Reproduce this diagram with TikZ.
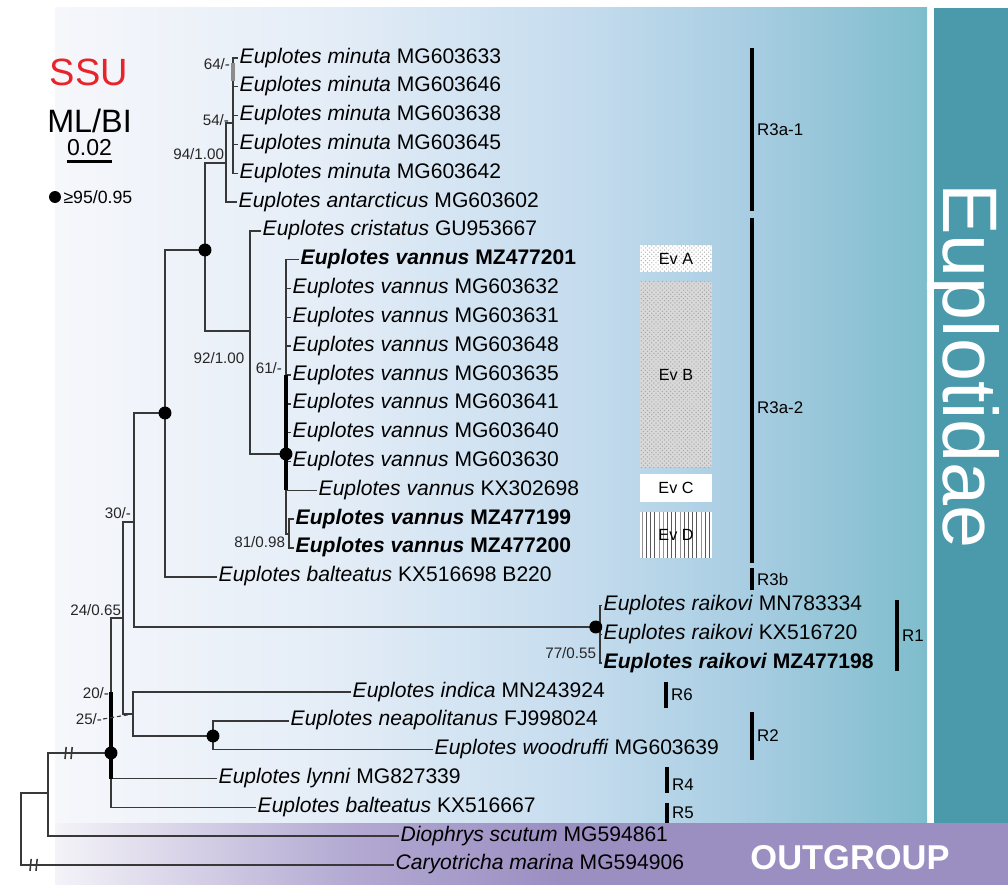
\documentclass[tikz,border=0pt]{standalone}
\usepackage{fontspec}
\setmainfont{Liberation Sans}
\usetikzlibrary{positioning,patterns,calc}

\definecolor{ssured}{HTML}{E8232A}
\definecolor{bgA}{HTML}{F6F7FB}
\definecolor{bgB}{HTML}{E4EDF7}
\definecolor{bgC}{HTML}{C5DCEE}
\definecolor{bgD}{HTML}{A6CCE1}
\definecolor{bgE}{HTML}{7EBDCC}
\definecolor{famteal}{HTML}{4A9AAC}
\definecolor{puA}{HTML}{F4F3F8}
\definecolor{puB}{HTML}{B3A9D2}
\definecolor{puC}{HTML}{9B8FC2}

\newcommand\taxfont{\fontsize{15}{18}\selectfont}
\newcommand\supfont{\fontsize{10.8}{12}\selectfont}
\newcommand\cladefont{\fontsize{12}{14}\selectfont}
\newcommand\evfont{\fontsize{11.5}{13}\selectfont}

\tikzset{
  branch/.style={draw=black!78, line width=1pt},
  supportbar/.style={draw=black, line width=2.2pt},
  graybar/.style={draw=black!45, line width=2.2pt},
  cutmark/.style={draw=black!78, line width=1.1pt},
  leaf/.style={anchor=west, inner xsep=1pt, inner ysep=0pt, font=\taxfont,
    text height=0.716em, text depth=0pt},
  support/.style={font=\supfont, inner sep=0.5pt, text=black!85},
  hub/.style={circle, fill=black, inner sep=0pt, minimum size=9.2pt},
  cladebar/.style={fill=black, inner sep=0pt, minimum width=2.6pt},
  cladelabel/.style={font=\cladefont, inner sep=0.5pt},
  evbox/.style={inner sep=0pt, minimum width=51.2pt, font=\evfont}
}

\begin{document}
\begin{tikzpicture}[x=0.025cm, y=-0.025cm]
  \useasboundingbox (0,0) rectangle (1008,885);
  \fill[white] (0,0) rectangle (1008,885);

  % backgrounds
  \shade[left color=bgA, right color=bgB] (55,8) rectangle (330,823);
  \shade[left color=bgB, right color=bgC] (330,8) rectangle (580,823);
  \shade[left color=bgC, right color=bgD] (580,8) rectangle (760,823);
  \shade[left color=bgD, right color=bgE] (760,8) rectangle (927,823);
  \fill[famteal] (934,8) rectangle (1008,823);
  \shade[left color=puA, right color=puB] (55,823) rectangle (350,885);
  \shade[left color=puB, right color=puC] (350,823) rectangle (560,885);
  \fill[puC] (560,823) rectangle (1008,885);

  \node[rotate=-90, anchor=base west, inner sep=0pt, text=white,
    font=\fontsize{55}{60}\selectfont] (fam) at (943,183) {Euplotidae};
  \node[text=white, inner sep=0pt, font=\fontsize{24.5}{28}\selectfont\bfseries] (outg) at (850,858) {OUTGROUP};

  % legend
  \node[text=ssured, inner sep=0pt, font=\fontsize{27}{30}\selectfont] (ssu) at (89,72) {SSU};
  \node[inner sep=0pt, font=\fontsize{23}{26}\selectfont] (mlbi) at (89.5,121) {ML/BI};
  \node[inner sep=0pt, font=\fontsize{16.4}{19}\selectfont] (scale) at (89.5,148) {0.02};
  \draw[line width=1.8pt] ([yshift=-3.6pt]scale.south west) -- ([yshift=-3.6pt]scale.south east);
  \node[hub, minimum size=8.5pt] (ldot) at (55,197) {};
  \node[inner sep=0pt, right=1.4pt of ldot, font=\fontsize{12.6}{14}\selectfont] (lsup) {≥95/0.95};

  % taxa
  \node[leaf] (t1) at (238,58) {\textit{Euplotes minuta} MG603633};
  \node[leaf] (t2) at (238,86.8) {\textit{Euplotes minuta} MG603646};
  \node[leaf] (t3) at (238,115.6) {\textit{Euplotes minuta} MG603638};
  \node[leaf] (t4) at (238,144.5) {\textit{Euplotes minuta} MG603645};
  \node[leaf] (t5) at (238,173.3) {\textit{Euplotes minuta} MG603642};
  \node[leaf] (t6) at (237,202.1) {\textit{Euplotes antarcticus} MG603602};
  \node[leaf] (t7) at (261,230.9) {\textit{Euplotes cristatus} GU953667};
  \node[leaf] (t8) at (299,259.7) {\textbf{\textit{Euplotes vannus} MZ477201}};
  \node[leaf] (t9) at (291,288.6) {\textit{Euplotes vannus} MG603632};
  \node[leaf] (t10) at (291,317.4) {\textit{Euplotes vannus} MG603631};
  \node[leaf] (t11) at (291,346.2) {\textit{Euplotes vannus} MG603648};
  \node[leaf] (t12) at (291,375) {\textit{Euplotes vannus} MG603635};
  \node[leaf] (t13) at (291,403.8) {\textit{Euplotes vannus} MG603641};
  \node[leaf] (t14) at (291,432.7) {\textit{Euplotes vannus} MG603640};
  \node[leaf] (t15) at (291,461.5) {\textit{Euplotes vannus} MG603630};
  \node[leaf] (t16) at (317,490.3) {\textit{Euplotes vannus} KX302698};
  \node[leaf] (t17) at (294,519.1) {\textbf{\textit{Euplotes vannus} MZ477199}};
  \node[leaf] (t18) at (294,547.9) {\textbf{\textit{Euplotes vannus} MZ477200}};
  \node[leaf] (t19) at (217,576.8) {\textit{Euplotes balteatus} KX516698 B220};
  \node[leaf] (t20) at (602,605.6) {\textit{Euplotes raikovi} MN783334};
  \node[leaf] (t21) at (602,634.4) {\textit{Euplotes raikovi} KX516720};
  \node[leaf] (t22) at (602,663.2) {\textbf{\textit{Euplotes raikovi} MZ477198}};
  \node[leaf] (t23) at (351,692) {\textit{Euplotes indica} MN243924};
  \node[leaf] (t24) at (289,720.8) {\textit{Euplotes neapolitanus} FJ998024};
  \node[leaf] (t25) at (433,749.7) {\textit{Euplotes woodruffi} MG603639};
  \node[leaf] (t26) at (217,778.5) {\textit{Euplotes lynni} MG827339};
  \node[leaf] (t27) at (256,807.3) {\textit{Euplotes balteatus} KX516667};
  \node[leaf] (t28) at (399,836.1) {\textit{Diophrys scutum} MG594861};
  \node[leaf] (t29) at (394,864.9) {\textit{Caryotricha marina} MG594906};

  % inner nodes
  \coordinate (nmin) at (233,123);
  \coordinate (n64) at (233,72);
  \coordinate (n94) at (226,163);
  \coordinate (nB) at (205,250);
  \coordinate (nC) at (250,331);
  \coordinate (nD) at (286,454);
  \coordinate (n81) at (289,534);
  \coordinate (nA) at (165,413);
  \coordinate (n30) at (134,522);
  \coordinate (nR1) at (600,627);
  \coordinate (n24) at (123,618);
  \coordinate (n25) at (133,714);
  \coordinate (nR2) at (213,736);
  \coordinate (nE) at (111,753);
  \coordinate (nO) at (48,793);
  \coordinate (nroot) at (21,829);

  % branches
  \draw[branch] (nmin) |- (t1.west) (nmin) |- (t2.west) (nmin) |- (t3.west) (nmin) |- (t4.west) (nmin) |- (t5.west);
  \draw[graybar] (n64) ++(0,-9) -- ++(0,18);
  \draw[branch] (n94) |- (nmin) (n94) |- (t6.west);
  \draw[branch] (nB) |- (n94) (nB) |- (nC);
  \draw[branch] (nC) |- (t7.west) (nC) |- (nD);
  \draw[branch] (nD) |- (t8.west) (nD) |- (t9.west) (nD) |- (t10.west) (nD) |- (t11.west) (nD) |- (t12.west)
    (nD) |- (t13.west) (nD) |- (t14.west) (nD) |- (t15.west) (nD) |- (t16.west) (nD) |- (n81);
  \draw[supportbar] (nD |- t12.west) -- (nD |- t16.west);
  \draw[branch] (n81) |- (t17.west) (n81) |- (t18.west);
  \draw[branch] (nA) |- (nB) (nA) |- (t19.west);
  \draw[branch] (n30) |- (nA) (n30) |- (nR1);
  \draw[branch] (nR1) |- (t20.west) (nR1) |- (t21.west) (nR1) |- (t22.west);
  \draw[branch] (n24) |- (n30) (n24) |- (n25);
  \draw[branch] (n25) |- (t23.west) (n25) |- (nR2);
  \draw[branch] (nR2) |- (t24.west) (nR2) |- (t25.west);
  \draw[branch] (nE) |- (n24) (nE) |- (t26.west) (nE) |- (t27.west);
  \draw[supportbar] (nE |- t23.west) -- (nE |- t26.west);
  \draw[branch] (nO) |- (nE) (nO) |- (t28.west);
  \draw[branch] (nroot) |- (nO) (nroot) |- (t29.west);

  % broken branches
  \coordinate (cut1) at (68,753);
  \coordinate (cut2) at (33,864.9);
  \draw[cutmark] (cut1) ++(-3,6) -- ++(1.2,-12) (cut1) ++(3,6) -- ++(1.2,-12);
  \draw[cutmark] (cut2) ++(-3,6) -- ++(1.2,-12) (cut2) ++(3,6) -- ++(1.2,-12);

  % supported nodes
  \node[hub] (dB) at (nB) {};
  \node[hub] (dD) at (nD) {};
  \node[hub] (dA) at (nA) {};
  \node[hub] (dR1) at ([xshift=-3]nR1) {};
  \node[hub] (dR2) at (nR2) {};
  \node[hub] (dE) at (nE) {};

  % support values
  \node[support, anchor=east] (s64) at (231,64) {64/-};
  \node[support, anchor=east] (s54) at (230,120) {54/-};
  \node[support, anchor=south east] (s94) at (225,161) {94/1.00};
  \node[support] (s92) at (219,358) {92/1.00};
  \node[support, anchor=east] (s61) at (283,368) {61/-};
  \node[support, anchor=east] (s81) at (286,542) {81/0.98};
  \node[support, anchor=east] (s30) at (132,513) {30/-};
  \node[support, anchor=east] (s24) at (122,610) {24/0.65};
  \node[support, anchor=east] (s20) at (110,693) {20/-};
  \node[support, anchor=east] (s25) at (103,719) {25/-};
  \node[support, anchor=east] (s77) at (597,653) {77/0.55};
  \draw[branch, line width=0.8pt, densely dashed] (s25.east) -- (n25);

  % Ev haplotypes
  \node[evbox, minimum height=19.2pt, preaction={fill=white}, pattern=crosshatch dots, pattern color=gray!60] (evA) at (676,258.5) {};
  \node[font=\evfont] at (evA) {Ev A};
  \node[evbox, minimum height=131.6pt, preaction={fill=gray!30}, pattern=crosshatch dots, pattern color=gray!70] (evB) at (676,374.5) {};
  \node[font=\evfont] at (evB) {Ev B};
  \node[evbox, minimum height=19.9pt, fill=white] (evC) at (676,488) {Ev C};
  \node[evbox, minimum height=32.7pt, preaction={fill=white}, pattern=vertical lines, pattern color=black!65] (evD) at (676,535) {};
  \node[font=\evfont] at (evD) {Ev D};

  % clades
  \node[cladebar, minimum height=116pt] (b3a1) at (752,129.5) {};
  \node[cladelabel, right=1.5pt of b3a1] (l3a1) {R3a-1};
  \node[cladebar, minimum height=245.4pt] (b3a2) at (752,390.5) {};
  \node[cladelabel, right=1.5pt of b3a2, yshift=-12pt] (l3a2) {R3a-2};
  \node[cladebar, minimum height=15.6pt] (b3b) at (752,579) {};
  \node[cladelabel, right=1.5pt of b3b] (l3b) {R3b};
  \node[cladebar, minimum height=50.5pt] (b1) at (897,635.5) {};
  \node[cladelabel, right=1.5pt of b1] (l1) {R1};
  \node[cladebar, minimum height=18.5pt] (b6) at (666,695) {};
  \node[cladelabel, right=1.5pt of b6] (l6) {R6};
  \node[cladebar, minimum height=34.1pt] (b2) at (752,736) {};
  \node[cladelabel, right=1.5pt of b2] (l2) {R2};
  \node[cladebar, minimum height=18.5pt] (b4) at (667,780) {};
  \node[cladelabel, right=1.5pt of b4, yshift=-3pt] (l4) {R4};
  \node[cladebar, minimum height=14.2pt] (b5) at (667,813) {};
  \node[cladelabel, right=1.5pt of b5] (l5) {R5};
\end{tikzpicture}
\end{document}
